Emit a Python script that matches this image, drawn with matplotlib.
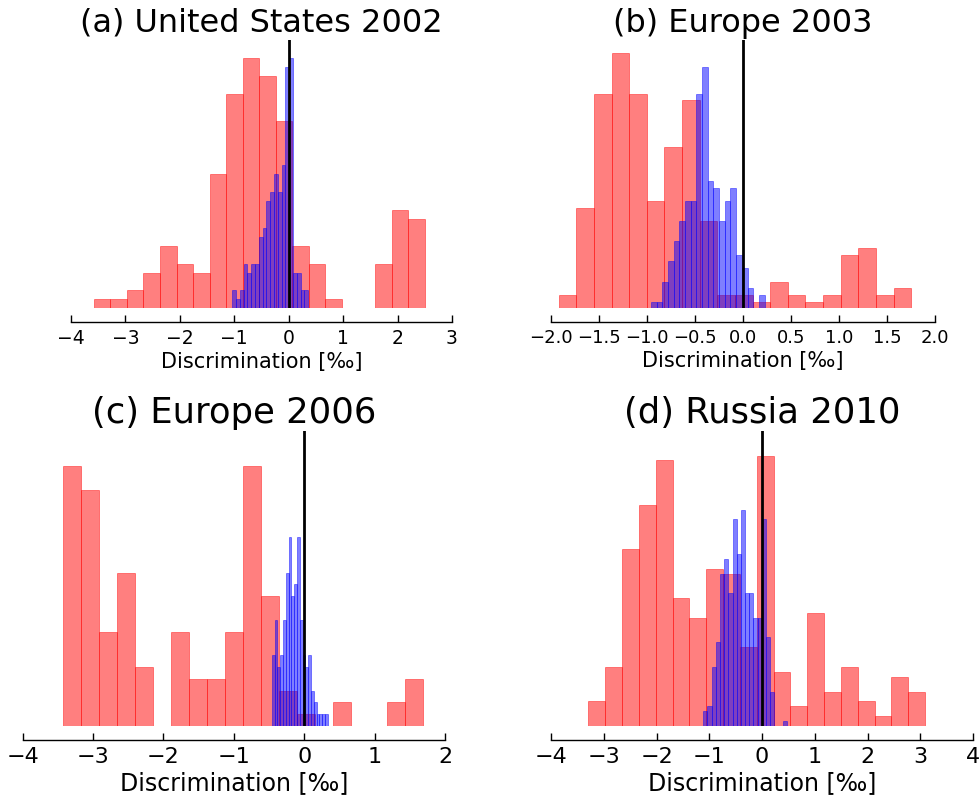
import numpy as np
import matplotlib
matplotlib.use("Agg")
import matplotlib.pyplot as plt

plt.rcParams["font.family"] = ["DejaVu Sans"]

# Histogram counts per bin (20 bins each) and the data range covered by the bins
titles = ["(a) United States 2002", "(b) Europe 2003", "(c) Europe 2006", "(d) Russia 2010"]

a_red = [1, 1, 2, 4, 7, 5, 4, 15, 24, 28, 26, 21, 7, 5, 1, 0, 0, 5, 11, 10]
a_red_range = (-3.58, 2.50)
a_blue = [2, 1, 2, 5, 4, 5, 5, 8, 9, 12, 13, 15, 13, 16, 27, 28, 4, 4, 2, 2]
a_blue_range = (-1.04, 0.36)

b_red = [2, 15, 32, 38, 32, 16, 24, 31, 13, 2, 2, 1, 4, 2, 1, 2, 8, 9, 2, 3]
b_red_range = (-1.92, 1.753)
b_blue = [1, 1, 4, 7, 10, 13, 16, 16, 32, 36, 19, 18, 13, 16, 18, 8, 6, 3, 0, 2]
b_blue_range = (-0.958, 0.225)

c_red = [22, 20, 8, 13, 5, 0, 8, 4, 4, 8, 22, 11, 3, 1, 0, 2, 0, 0, 2, 4]
c_red_range = (-3.431, 1.682)
c_blue = [6, 9, 5, 6, 9, 13, 16, 11, 12, 16, 9, 6, 5, 6, 3, 2, 1, 1, 1, 1]
c_blue_range = (-0.462, 0.333)

d_red = [5, 12, 36, 45, 54, 26, 22, 32, 31, 16, 55, 11, 4, 23, 7, 12, 5, 2, 10, 7]
d_red_range = (-3.289, 3.087)
d_blue = [3, 4, 12, 17, 31, 34, 27, 42, 35, 44, 27, 27, 22, 22, 42, 18, 7, 0, 0, 1]
d_blue_range = (-1.117, 0.473)

# Axis limits and ticks
a_xticks = [-4, -3, -2, -1, 0, 1, 2, 3]
b_xticks = [-2.0, -1.5, -1.0, -0.5, 0.0, 0.5, 1.0, 1.5, 2.0]
c_xticks = [-4, -3, -2, -1, 0, 1, 2]
d_xticks = [-4, -3, -2, -1, 0, 1, 2, 3, 4]
ylims = [30, 40, 25, 60]

panels = [
    (a_red, a_red_range, a_blue, a_blue_range, a_xticks),
    (b_red, b_red_range, b_blue, b_blue_range, b_xticks),
    (c_red, c_red_range, c_blue, c_blue_range, c_xticks),
    (d_red, d_red_range, d_blue, d_blue_range, d_xticks),
]

fig = plt.figure(figsize=(9.8, 7.99), dpi=100)
rects = [
    [0.0724, 0.6141, 0.3888, 0.3358],
    [0.5622, 0.6141, 0.3918, 0.3358],
    [0.0232, 0.0914, 0.4309, 0.3692],
    [0.5622, 0.0914, 0.4309, 0.3692],
]
# (tick, label, title) font sizes: the lower row is set a little larger
fonts = [(13.5, 15, 23), (13, 15, 23), (16, 17, 25.5), (16, 17, 25.5)]


def draw_hist(ax, counts, rng, color):
    edges = np.linspace(rng[0], rng[1], len(counts) + 1)
    ax.bar(edges[:-1], counts, width=np.diff(edges), align="edge",
           color=color, edgecolor=color, alpha=0.5, linewidth=0.6)


for rect, title, (red, red_rng, blue, blue_rng, xt), ytop, (fs_t, fs_l, fs_h) in zip(
        rects, titles, panels, ylims, fonts):
    ax = fig.add_axes(rect)
    draw_hist(ax, red, red_rng, "red")
    draw_hist(ax, blue, blue_rng, "blue")
    ax.axvline(0, color="black", linewidth=2)
    ax.set_xlim(xt[0], xt[-1])
    ax.set_ylim(0, ytop)
    ax.set_xticks(xt)
    ax.set_yticks([])
    for s in ("left", "right", "top"):
        ax.spines[s].set_visible(False)
    ax.spines["bottom"].set_position(("outward", 10))
    ax.spines["bottom"].set_linewidth(1.0)
    ax.tick_params(axis="x", direction="in", length=5, width=1, labelsize=fs_t, pad=5)
    ax.set_xlabel("Discrimination [‰]", fontsize=fs_l, labelpad=3)
    ax.set_title(title, fontsize=fs_h)

fig.savefig("out.png", dpi=100)
